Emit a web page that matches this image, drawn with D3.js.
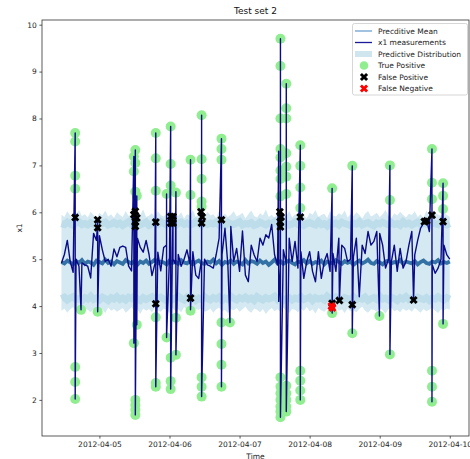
<!DOCTYPE html>
<html>
<head>
<meta charset="utf-8">
<script src="https://cdn.jsdelivr.net/npm/d3@7"></script>
<style>
  body { margin: 0; background: #fff; }
  text { font-family: "DejaVu Sans", sans-serif; }
</style>
</head>
<body>
<svg id="chart" width="470" height="459"></svg>
<script>
// hourly samples starting 2012-04-04 11:00
const startTime = new Date(2012, 3, 4, 11, 0);

const measure = [
  4.92,5.10,5.40,4.95,4.72,5.00,4.85,4.92,4.88,4.85,4.60,5.55,5.40,5.50,5.20,4.95,5.00,4.85,5.22,5.05,
  5.25,5.28,5.25,4.85,4.75,4.70,5.45,5.25,5.15,5.40,5.10,4.65,4.90,5.15,4.75,5.25,5.30,5.05,5.20,4.90,
  5.10,4.85,5.00,5.20,4.90,5.16,4.66,4.59,5.00,5.00,4.88,4.85,4.81,5.10,5.45,5.10,5.66,4.87,5.70,4.95,
  5.23,4.74,5.60,4.66,4.52,5.30,5.09,4.95,5.45,5.30,5.52,5.45,5.74,5.09,4.88,4.80,5.20,4.90,5.45,4.95,
  5.38,4.81,5.16,4.59,4.95,5.16,4.74,4.52,5.16,4.59,4.95,5.12,4.74,5.12,4.74,5.45,5.30,5.23,4.95,5.00,
  5.05,5.45,4.20,5.30,5.12,5.59,5.30,5.38,5.59,5.55,5.30,4.81,5.00,4.95,5.30,4.74,5.23,4.81,4.95,5.30,
  5.59,5.09,5.40,5.66,5.77,5.85,5.59,4.88,4.70,4.81,5.00,5.30,5.09,5.00
];

// line excursions: [hour, top, bottom]
const spikes = [
  [4.7, 7.69, 2.02], [6.7, 3.92, 3.92], [12.4, 5.84, 3.88], [24.8, 7.19, 3.21],
  [25.3, 7.33, 1.68], [25.8, 6.35, 3.6], [32.3, 7.69, 2.28], [36.0, 6.39, 3.33],
  [37.4, 7.83, 2.23], [38.2, 5.91, 5.0], [39.2, 6.44, 2.96], [44.2, 7.12, 3.92],
  [48.0, 8.07, 2.07], [54.8, 7.57, 2.28], [57.7, 3.65, 3.65], [74.4, 7.3, 4.1],
  [75.0, 9.70, 1.63], [77.0, 8.74, 1.75], [81.8, 7.43, 2.0], [92.7, 6.51, 3.85],
  [95.2, 4.12, 4.12], [99.6, 6.99, 3.42], [108.9, 3.79, 3.79], [112.5, 7.0, 2.97],
  [120.6, 4.13, 4.13], [126.9, 7.35, 1.96], [130.7, 6.62, 3.62]
];

const truePos = [
  [4.7,7.69],[4.7,7.51],[4.7,6.78],[4.7,6.50],[4.7,2.70],[4.7,2.38],[4.7,2.02],
  [6.7,3.92],[12.4,3.88],
  [24.8,7.19],[24.8,6.87],[24.8,3.21],[25.3,7.33],[25.3,7.05],[25.3,6.44],[25.3,2.0],
  [25.3,1.89],[25.3,1.79],[25.3,1.68],[25.8,6.35],[25.8,3.6],
  [32.3,7.69],[32.3,7.15],[32.3,6.46],[32.3,3.76],[32.3,2.36],[32.3,2.28],
  [36.0,6.39],[36.0,3.33],
  [37.4,7.83],[37.4,7.03],[37.4,6.57],[37.4,2.9],[37.4,2.4],[37.4,2.23],
  [39.2,6.42],[39.2,3.75],[39.2,2.96],
  [44.2,7.12],[44.2,6.37],[44.2,3.9],
  [48.0,8.07],[48.0,7.13],[48.0,6.71],[48.0,6.23],[48.0,6.12],[48.0,2.48],[48.0,2.28],[48.0,2.07],
  [54.8,7.57],[54.8,7.35],[54.8,7.12],[54.8,3.65],[54.8,3.19],[54.8,2.75],[54.8,2.28],
  [57.7,3.65],
  [75.0,9.70],[75.0,9.12],[75.0,8.0],[75.0,7.35],[75.0,7.17],[75.0,6.89],[75.0,6.71],[75.0,6.34],
  [75.0,2.48],[75.0,2.28],[75.0,2.14],[75.0,2.0],[75.0,1.86],[75.0,1.75],[75.0,1.63],
  [77.0,8.74],[77.0,8.22],[77.0,8.0],[77.0,7.26],[77.0,6.97],[77.0,6.76],[77.0,6.39],
  [77.0,2.3],[77.0,2.14],[77.0,2.0],[77.0,1.86],[77.0,1.75],
  [81.8,7.43],[81.8,6.99],[81.8,6.53],[81.8,6.09],[81.8,2.62],[81.8,2.41],[81.8,2.2],[81.8,2.0],
  [92.7,6.51],[92.7,3.85],[99.6,6.99],[99.6,3.42],[108.9,3.79],
  [112.5,7.0],[112.5,6.26],[112.5,2.97],
  [126.9,7.35],[126.9,6.63],[126.9,6.28],[126.9,2.62],[126.9,2.28],[126.9,1.96],
  [130.7,6.62],[130.7,6.35],[130.7,6.07],[130.7,3.62]
];

const falsePos = [
  [4.7,5.89],[12.4,5.84],[12.4,5.67],[24.8,5.95],[25.3,6.02],[25.3,5.8],[25.8,5.88],[25.3,5.70],
  [32.3,5.79],[32.3,4.05],[37.4,5.91],[37.4,5.77],[38.2,5.91],[38.2,5.77],[44.2,4.17],
  [47.8,6.01],[48.2,5.9],[48.0,5.77],[54.8,5.84],[74.8,6.01],[75.2,5.9],[74.9,5.8],[75.0,5.69],
  [81.8,5.9],[92.7,4.06],[95.2,4.12],[99.6,4.03],[120.6,4.13],[124.3,5.8],[125.1,5.82],
  [126.9,5.94],[130.7,5.8]
];

const falseNeg = [[92.5,4.0],[92.8,3.96]];

const predMean = [
  4.94,4.91,4.97,4.93,4.89,4.96,4.92,4.98,4.90,4.95,4.93,4.88,4.97,4.94,4.91,4.99,4.92,4.95,4.89,4.96,
  4.93,4.90,4.98,4.94,4.91,4.96,4.88,4.95,4.92,4.97,4.90,4.94,4.99,4.91,4.95,4.93,4.89,4.97,4.92,4.95,
  4.90,4.98,4.93,4.91,4.96,4.89,4.94,4.97,4.92,4.90,4.95,4.93,4.99,4.91,4.96,4.88,4.94,4.92,4.97,4.90,
  4.95,4.93,4.89,4.98,4.91,4.96,4.94,4.90,4.97,4.92,4.95,4.88,4.93,4.99,4.91,4.96,4.90,4.94,4.97,4.92,
  4.89,4.95,4.93,4.98,4.91,4.96,4.90,4.94,4.92,4.97,4.89,4.95,4.93,4.91,4.98,4.94,4.90,4.96,4.92,4.95,
  4.88,4.93,4.97,4.91,4.94,4.99,4.92,4.90,4.96,4.93,4.89,4.95,4.97,4.91,4.94,4.92,4.98,4.90,4.95,4.93,
  4.91,4.96,4.89,4.94,4.97,4.92,4.90,4.95,4.93,4.98,4.91,4.94,4.92,4.95
];

const predUpper = [
  5.95,5.90,6.02,5.93,5.88,5.97,6.05,5.92,5.96,5.89,6.01,5.94,5.87,5.99,5.93,6.04,5.91,5.96,5.88,6.00,
  5.94,5.90,6.03,5.92,5.97,5.86,5.99,5.95,6.06,5.90,5.93,5.98,5.89,6.02,5.94,5.91,5.97,6.04,5.88,5.95,
  5.92,6.00,5.87,5.96,5.93,6.05,5.90,5.98,5.94,5.89,6.01,5.93,5.96,5.88,6.03,5.92,5.97,5.90,5.95,6.02,
  5.91,5.94,5.99,5.87,5.96,6.04,5.92,5.89,5.98,5.93,6.06,5.90,5.95,5.88,6.00,5.94,5.97,5.91,6.03,5.89,
  5.96,5.92,6.01,5.93,5.87,5.99,5.95,6.05,5.90,5.94,5.97,5.88,6.02,5.93,5.91,5.98,5.94,6.04,5.89,5.96,
  5.92,6.00,5.95,5.87,5.97,6.03,5.91,5.94,5.99,5.90,5.96,6.05,5.92,5.88,5.98,5.93,6.01,5.95,5.89,5.97,
  5.94,6.02,5.90,5.96,5.88,6.04,5.93,5.91,5.99,5.95,5.92,6.00,5.94,5.90
];

const predLower = [
  3.90,3.95,3.86,3.93,3.98,3.88,3.91,3.84,3.96,3.92,3.87,3.94,3.99,3.89,3.93,3.85,3.97,3.90,3.94,3.88,
  3.92,3.96,3.86,3.91,3.98,3.89,3.93,3.83,3.95,3.90,3.94,3.87,3.97,3.91,3.88,3.95,3.92,3.85,3.96,3.90,
  3.93,3.87,3.98,3.91,3.89,3.84,3.94,3.92,3.96,3.88,3.90,3.95,3.86,3.93,3.97,3.89,3.92,3.85,3.94,3.91,
  3.96,3.88,3.93,3.99,3.90,3.86,3.95,3.92,3.87,3.94,3.83,3.91,3.96,3.89,3.93,3.88,3.97,3.90,3.85,3.94,
  3.92,3.87,3.95,3.90,3.98,3.89,3.93,3.84,3.96,3.91,3.88,3.94,3.86,3.92,3.97,3.90,3.93,3.85,3.95,3.89,
  3.91,3.87,3.94,3.99,3.90,3.86,3.93,3.92,3.88,3.96,3.91,3.84,3.94,3.97,3.89,3.92,3.87,3.95,3.90,3.93,
  3.88,3.96,3.91,3.86,3.94,3.89,3.92,3.97,3.90,3.85,3.93,3.91,3.95,3.92
];

const upperBound = [
  5.76,5.74,5.79,5.75,5.72,5.77,5.80,5.74,5.76,5.73,5.78,5.75,5.71,5.77,5.76,5.79,5.73,5.75,5.78,5.74,
  5.77,5.72,5.76,5.80,5.74,5.75,5.78,5.73,5.76,5.79,5.72,5.75,5.77,5.74,5.80,5.76,5.73,5.78,5.75,5.71,
  5.76,5.79,5.74,5.77,5.73,5.75,5.80,5.76,5.72,5.78,5.74,5.77,5.75,5.79,5.73,5.76,5.71,5.78,5.75,5.74,
  5.77,5.80,5.73,5.76,5.75,5.78,5.72,5.74,5.79,5.76,5.73,5.77,5.75,5.80,5.74,5.71,5.78,5.76,5.73,5.75,
  5.79,5.74,5.77,5.72,5.76,5.78,5.75,5.73,5.80,5.74,5.76,5.71,5.78,5.75,5.77,5.73,5.79,5.76,5.74,5.72,
  5.77,5.75,5.80,5.73,5.76,5.78,5.74,5.71,5.77,5.75,5.79,5.76,5.73,5.78,5.74,5.76,5.72,5.80,5.75,5.77,
  5.73,5.76,5.79,5.74,5.75,5.78,5.72,5.77,5.76,5.74,5.79,5.75,5.73,5.76
];

const lowerBound = [
  4.16,4.19,4.13,4.17,4.20,4.14,4.16,4.12,4.18,4.15,4.21,4.14,4.17,4.13,4.19,4.16,4.12,4.18,4.15,4.20,
  4.14,4.17,4.13,4.19,4.16,4.21,4.15,4.12,4.18,4.14,4.17,4.20,4.13,4.16,4.19,4.15,4.12,4.18,4.14,4.17,
  4.21,4.16,4.13,4.19,4.15,4.18,4.12,4.17,4.14,4.20,4.16,4.13,4.18,4.15,4.19,4.12,4.17,4.14,4.21,4.16,
  4.13,4.18,4.15,4.19,4.14,4.17,4.12,4.20,4.16,4.13,4.18,4.15,4.17,4.21,4.14,4.19,4.12,4.16,4.18,4.13,
  4.17,4.15,4.20,4.14,4.16,4.19,4.12,4.18,4.15,4.17,4.13,4.21,4.16,4.14,4.19,4.15,4.12,4.18,4.16,4.13,
  4.20,4.14,4.17,4.15,4.19,4.12,4.16,4.18,4.14,4.21,4.15,4.17,4.13,4.19,4.16,4.12,4.18,4.15,4.20,4.14,
  4.17,4.13,4.19,4.16,4.14,4.18,4.12,4.17,4.15,4.20,4.16,4.13,4.18,4.15
];

const yTicks = [2, 3, 4, 5, 6, 7, 8, 9, 10];
const xTicks = [5, 6, 7, 8, 9, 10].map((d) => new Date(2012, 3, d));

const legendItems = [
  { label: "Precditive Mean", kind: "mean" },
  { label: "x1 measurements", kind: "line" },
  { label: "Predictive Distribution", kind: "band" },
  { label: "True Positive", kind: "tp" },
  { label: "False Positive", kind: "fp" },
  { label: "False Negative", kind: "fn" },
];

const hourDate = (h) => new Date(+startTime + h * 3600e3);

const margin = { left: 42, right: 469, top: 20, bottom: 436 };
const svg = d3.select("#chart");

const x = d3.scaleTime()
  .domain([new Date(2012, 3, 4, 4, 20), new Date(2012, 3, 10, 6, 35)])
  .range([margin.left, margin.right]);
const y = d3.scaleLinear().domain([1.23, 10.1]).range([margin.bottom, margin.top]);

svg.append("defs").append("clipPath").attr("id", "clip")
  .append("rect")
  .attr("x", margin.left).attr("y", margin.top)
  .attr("width", margin.right - margin.left)
  .attr("height", margin.bottom - margin.top);

const plot = svg.append("g").attr("clip-path", "url(#clip)");

// predictive distribution
plot.append("path")
  .datum(predUpper)
  .attr("fill", "#d4e9f1")
  .attr("d", d3.area()
    .x((d, i) => x(hourDate(i)))
    .y0((d, i) => y(predLower[i]))
    .y1((d) => y(d)));

const boundLine = d3.line().x((d, i) => x(hourDate(i))).y((d) => y(d));
[upperBound, lowerBound].forEach((arr) => {
  plot.append("path")
    .datum(arr)
    .attr("fill", "none")
    .attr("stroke", "#b9dbea")
    .attr("stroke-opacity", 0.85)
    .attr("stroke-width", 7)
    .attr("d", boundLine);
});

// predictive mean
plot.append("path")
  .datum(predMean)
  .attr("fill", "none")
  .attr("stroke", "#3472a5")
  .attr("stroke-width", 3.8)
  .attr("d", boundLine);

// true positives
plot.append("g")
  .selectAll("circle")
  .data(truePos)
  .join("circle")
  .attr("cx", (d) => x(hourDate(d[0])))
  .attr("cy", (d) => y(d[1]))
  .attr("r", 5)
  .attr("fill", "#90ee90");

// measurement line
let pts = measure.map((v, i) => [i, v]);
spikes.forEach((s) => {
  pts.push([s[0], s[1]]);
  pts.push([s[0], s[2]]);
});
pts.sort((a, b) => a[0] - b[0]);

plot.append("path")
  .datum(pts)
  .attr("fill", "none")
  .attr("stroke", "#0b0b8a")
  .attr("stroke-width", 1.4)
  .attr("stroke-linejoin", "round")
  .attr("d", d3.line().x((d) => x(hourDate(d[0]))).y((d) => y(d[1])));

const xMark = d3.symbol().type(d3.symbolCross).size(42);

plot.append("g")
  .selectAll("path")
  .data(falsePos)
  .join("path")
  .attr("d", xMark)
  .attr("fill", "#000")
  .attr("transform", (d) => `translate(${x(hourDate(d[0]))},${y(d[1])}) rotate(45)`);

plot.append("g")
  .selectAll("path")
  .data(falseNeg)
  .join("path")
  .attr("d", xMark)
  .attr("fill", "#ff0000")
  .attr("transform", (d) => `translate(${x(hourDate(d[0]))},${y(d[1])}) rotate(45)`);

// frame
svg.append("rect")
  .attr("x", margin.left).attr("y", margin.top)
  .attr("width", margin.right - margin.left)
  .attr("height", margin.bottom - margin.top)
  .attr("fill", "none")
  .attr("stroke", "#333")
  .attr("stroke-width", 0.8);

// axes
const xAxis = svg.append("g")
  .attr("transform", `translate(0,${margin.bottom})`)
  .call(d3.axisBottom(x).tickValues(xTicks).tickFormat(d3.timeFormat("%Y-%m-%d"))
    .tickSize(2.6).tickPadding(2.6));
const yAxis = svg.append("g")
  .attr("transform", `translate(${margin.left},0)`)
  .call(d3.axisLeft(y).tickValues(yTicks).tickSize(2.6).tickPadding(2.6));

[xAxis, yAxis].forEach((g) => {
  g.select(".domain").remove();
  g.selectAll("line").attr("stroke", "#333").attr("stroke-width", 0.8);
  g.selectAll("text")
    .attr("fill", "#222")
    .style("font-size", "7.5px")
    .style("font-family", "DejaVu Sans, sans-serif");
});

svg.append("text")
  .attr("x", (margin.left + margin.right) / 2)
  .attr("y", 14)
  .attr("text-anchor", "middle")
  .attr("font-size", 9)
  .attr("fill", "#111")
  .text("Test set 2");

svg.append("text")
  .attr("x", (margin.left + margin.right) / 2)
  .attr("y", 458.5)
  .attr("text-anchor", "middle")
  .attr("font-size", 7.5)
  .attr("fill", "#222")
  .text("Time");

svg.append("text")
  .attr("transform", `translate(21.5,${(margin.top + margin.bottom) / 2}) rotate(-90)`)
  .attr("text-anchor", "middle")
  .attr("font-size", 7.5)
  .attr("fill", "#222")
  .text("x1");

// legend
const lg = svg.append("g");
lg.append("rect")
  .attr("x", 352.5).attr("y", 23.5)
  .attr("width", 115).attr("height", 71.5)
  .attr("rx", 2)
  .attr("fill", "#fff").attr("fill-opacity", 0.85)
  .attr("stroke", "#ccc").attr("stroke-width", 0.8);

legendItems.forEach((item, i) => {
  const cy = 31 + i * 11.5;
  const hx = 364;
  if (item.kind === "mean" || item.kind === "line") {
    lg.append("line")
      .attr("x1", 355).attr("x2", 372).attr("y1", cy).attr("y2", cy)
      .attr("stroke", item.kind === "mean" ? "#6fa1cf" : "#1a1a9a")
      .attr("stroke-width", 1.3);
  } else if (item.kind === "band") {
    lg.append("rect")
      .attr("x", 355).attr("y", cy - 3).attr("width", 17).attr("height", 6)
      .attr("fill", "#cfe6ef");
  } else if (item.kind === "tp") {
    lg.append("circle").attr("cx", hx).attr("cy", cy).attr("r", 4.3).attr("fill", "#90ee90");
  } else {
    lg.append("path")
      .attr("d", xMark)
      .attr("fill", item.kind === "fp" ? "#000" : "#ff0000")
      .attr("transform", `translate(${hx},${cy}) rotate(45)`);
  }
  lg.append("text")
    .attr("x", 378).attr("y", cy).attr("dy", "0.35em")
    .attr("font-size", 7.5)
    .attr("fill", "#222")
    .text(item.label);
});
</script>
</body>
</html>
